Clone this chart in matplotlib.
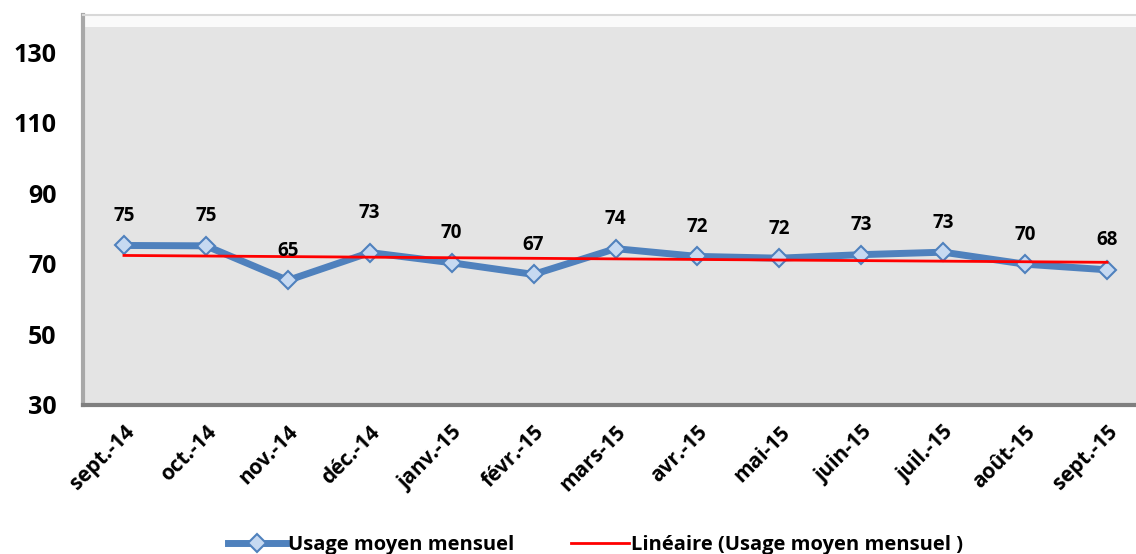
import numpy as np
import matplotlib
matplotlib.use("Agg")
import matplotlib.pyplot as plt
from matplotlib.patches import Rectangle
from matplotlib.transforms import ScaledTranslation

# data
months = ['sept.-14', 'oct.-14', 'nov.-14', 'déc.-14', 'janv.-15', 'févr.-15', 'mars-15',
          'avr.-15', 'mai-15', 'juin-15', 'juil.-15', 'août-15', 'sept.-15']
usage = [75.2, 75.1, 65.3, 73.2, 70.3, 67.0, 74.3, 72.1, 71.6, 72.6, 73.3, 69.9, 68.3]
labels = ['75', '75', '65', '73', '70', '67', '74', '72', '72', '73', '73', '70', '68']
yticks = [30, 50, 70, 90, 110, 130]

plt.rcParams['font.family'] = ['Open Sans', 'DejaVu Sans']
plt.rcParams['font.weight'] = 'bold'

fig = plt.figure(figsize=(11.36, 5.54), dpi=100)
ax = fig.add_axes([83/1136, 1-405/554, 1065/1136, 390/554])

x = np.arange(len(months))
ax.plot(x, usage, color='#4f81bd', lw=5, marker='D', ms=9, mfc='#c6d9f1', mec='#4f81bd',
        mew=1.5, label='Usage moyen mensuel', zorder=3)

# linear trend
a, b = np.polyfit(x, usage, 1)
ax.plot(x, a*x + b, color='#ff0000', lw=2, label='Linéaire (Usage moyen mensuel )', zorder=4)

for i, v in enumerate(usage):
    dy = 21 if i == 3 else 14
    ax.annotate(labels[i], (x[i], v), xytext=(0, dy), textcoords='offset points',
                ha='center', va='bottom', fontsize=13.5, fontweight='bold', zorder=5)

ax.set_xlim(-0.5, 12.5)
ax.set_ylim(30, 140.5)
ax.set_yticks(yticks)
ax.set_yticklabels([str(t) for t in yticks], fontsize=18, fontweight='bold')
ax.set_xticks(x)
ax.set_xticklabels(months, rotation=45, ha='right', rotation_mode='anchor',
                   fontsize=15, fontweight='bold')
shift = ScaledTranslation(-6/100, 0, fig.dpi_scale_trans)
for lab in ax.get_xticklabels():
    lab.set_transform(lab.get_transform() + shift)
ax.tick_params(length=0)
ax.tick_params(axis='y', pad=19)
ax.tick_params(axis='x', pad=12)

ax.set_facecolor('#e4e4e4')
ax.add_patch(Rectangle((0, 1-12/390), 1, 12/390, transform=ax.transAxes,
                       facecolor='#fafafa', edgecolor='none', zorder=1))
ax.spines['right'].set_visible(False)
ax.spines['top'].set_color('#d8d8d8')
ax.spines['top'].set_linewidth(1.5)
ax.spines['left'].set_color('#a8a8a8')
ax.spines['left'].set_linewidth(3)
ax.spines['bottom'].set_color('#7f7f7f')
ax.spines['bottom'].set_linewidth(3)

leg = fig.legend(loc='lower center', bbox_to_anchor=(0.524, -0.035), ncol=2, frameon=False,
                 prop={'size': 14.5, 'weight': 'bold'}, handlelength=2.9, columnspacing=2.8,
                 handletextpad=0.1)

fig.savefig('out.png', dpi=100)
